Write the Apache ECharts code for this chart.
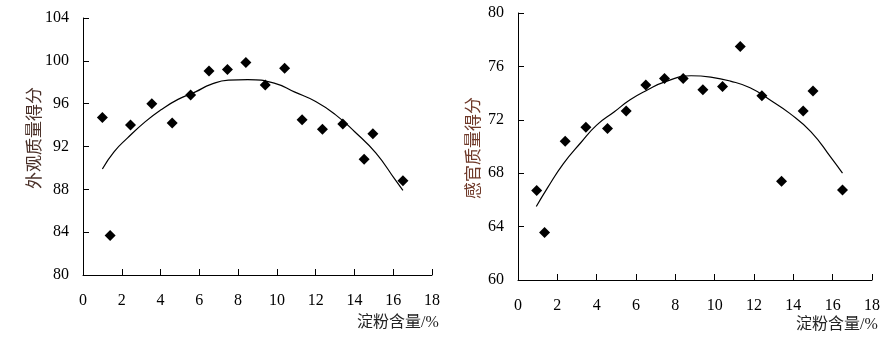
<!DOCTYPE html>
<html>
<head>
<meta charset="utf-8">
<script src="https://cdn.jsdelivr.net/npm/echarts@6/dist/echarts.min.js"></script>
<style>
  html, body { margin: 0; padding: 0; background: #fff; }
  #chart { width: 896px; height: 341px; }
</style>
</head>
<body>
<div id="chart"></div>
<script>
// Starch content (%) and appearance score, left panel
const starchA = [1.0, 1.4, 2.45, 3.55, 4.6, 5.55, 6.5, 7.45, 8.4, 9.4, 10.4, 11.3, 12.35, 13.4, 14.5, 14.95, 16.5];
const appearanceScore = [94.7, 83.7, 94.0, 96.0, 94.2, 96.8, 99.05, 99.2, 99.85, 97.75, 99.3, 94.5, 93.6, 94.1, 90.8, 93.2, 88.8];
// Fitted trend curve, left panel
const trendAx = [1.0, 1.6, 2.3, 3.2, 4.0, 4.9, 5.8, 6.6, 7.5, 8.5, 9.9, 10.9, 12.0, 13.0, 14.0, 15.1, 16.1, 16.5];
const trendAy = [89.9, 91.5, 92.8, 94.3, 95.4, 96.4, 97.1, 97.8, 98.2, 98.25, 97.9, 97.1, 96.2, 95.0, 93.4, 91.4, 88.9, 87.9];

// Starch content (%) and sensory score, right panel
const starchB = [0.95, 1.35, 2.4, 3.45, 4.55, 5.5, 6.5, 7.45, 8.4, 9.4, 10.4, 11.3, 12.4, 13.4, 14.5, 15.0, 16.5];
const sensoryScore = [66.7, 63.55, 70.4, 71.45, 71.35, 72.65, 74.6, 75.1, 75.1, 74.25, 74.5, 77.5, 73.8, 67.4, 72.65, 74.15, 66.75];
// Fitted trend curve, right panel
const trendBx = [0.93, 1.5, 2.3, 3.2, 4.0, 4.9, 5.7, 6.6, 7.4, 8.8, 9.8, 10.8, 11.8, 12.8, 13.8, 14.9, 15.9, 16.5];
const trendBy = [65.5, 66.9, 68.7, 70.3, 71.6, 72.6, 73.5, 74.25, 74.8, 75.3, 75.2, 74.9, 74.4, 73.5, 72.5, 71.1, 69.2, 68.0];

const xTitle = '淀粉含量/%';
const yTitleA = '外观质量得分';
const yTitleB = '感官质量得分';

const pairs = (xs, ys) => xs.map((x, i) => [x, ys[i]]);

const numFont = "'Liberation Serif', 'Times New Roman', serif";
const cjkFont = "'Liberation Serif', 'Noto Sans CJK SC', serif";

function xAxisCfg(gridIndex) {
  return {
    type: 'value', gridIndex, min: 0, max: 18, interval: 2,
    axisLine: { show: true, onZero: false, lineStyle: { color: '#000', width: 1 } },
    axisTick: { show: true, inside: true, length: 6, lineStyle: { color: '#000', width: 1 } },
    axisLabel: { color: '#000', fontFamily: numFont, fontSize: 16, margin: 18 },
    splitLine: { show: false }
  };
}
function yAxisCfg(gridIndex, min, max) {
  return {
    type: 'value', gridIndex, min, max, interval: 4,
    axisLine: { show: true, onZero: false, lineStyle: { color: '#000', width: 1 } },
    axisTick: { show: true, inside: true, length: 6, lineStyle: { color: '#000', width: 1 } },
    axisLabel: { color: '#000', fontFamily: numFont, fontSize: 16, margin: 14 },
    splitLine: { show: false }
  };
}

const chart = echarts.init(document.getElementById('chart'), null, { renderer: 'canvas' });
chart.setOption({
  animation: false,
  backgroundColor: '#fff',
  grid: [
    { left: 83, top: 18, width: 349, height: 257 },
    { left: 518, top: 13, width: 354, height: 267 }
  ],
  xAxis: [xAxisCfg(0), xAxisCfg(1)],
  yAxis: [yAxisCfg(0, 80, 104), yAxisCfg(1, 60, 80)],
  series: [
    {
      type: 'line', xAxisIndex: 0, yAxisIndex: 0, data: pairs(trendAx, trendAy),
      smooth: 0.5, showSymbol: false, lineStyle: { color: '#000', width: 1.2 }, z: 2
    },
    {
      type: 'scatter', xAxisIndex: 0, yAxisIndex: 0, data: pairs(starchA, appearanceScore),
      symbol: 'diamond', symbolSize: 11, itemStyle: { color: '#000', opacity: 1 }, z: 3
    },
    {
      type: 'line', xAxisIndex: 1, yAxisIndex: 1, data: pairs(trendBx, trendBy),
      smooth: 0.5, showSymbol: false, lineStyle: { color: '#000', width: 1.2 }, z: 2
    },
    {
      type: 'scatter', xAxisIndex: 1, yAxisIndex: 1, data: pairs(starchB, sensoryScore),
      symbol: 'diamond', symbolSize: 11, itemStyle: { color: '#000', opacity: 1 }, z: 3
    }
  ],
  graphic: [
    {
      type: 'text', x: 398, y: 323,
      style: { text: xTitle, font: "16px " + cjkFont, fill: '#222', align: 'center', verticalAlign: 'middle' }
    },
    {
      type: 'text', x: 837, y: 325,
      style: { text: xTitle, font: "16px " + cjkFont, fill: '#222', align: 'center', verticalAlign: 'middle' }
    },
    {
      type: 'text', x: 36, y: 138, rotation: Math.PI / 2,
      style: { text: yTitleA, font: "17px " + cjkFont, fill: '#4a3028', align: 'center', verticalAlign: 'middle' }
    },
    {
      type: 'text', x: 475, y: 148, rotation: Math.PI / 2,
      style: { text: yTitleB, font: "17px " + cjkFont, fill: '#6e3828', align: 'center', verticalAlign: 'middle' }
    }
  ]
});
</script>
</body>
</html>
